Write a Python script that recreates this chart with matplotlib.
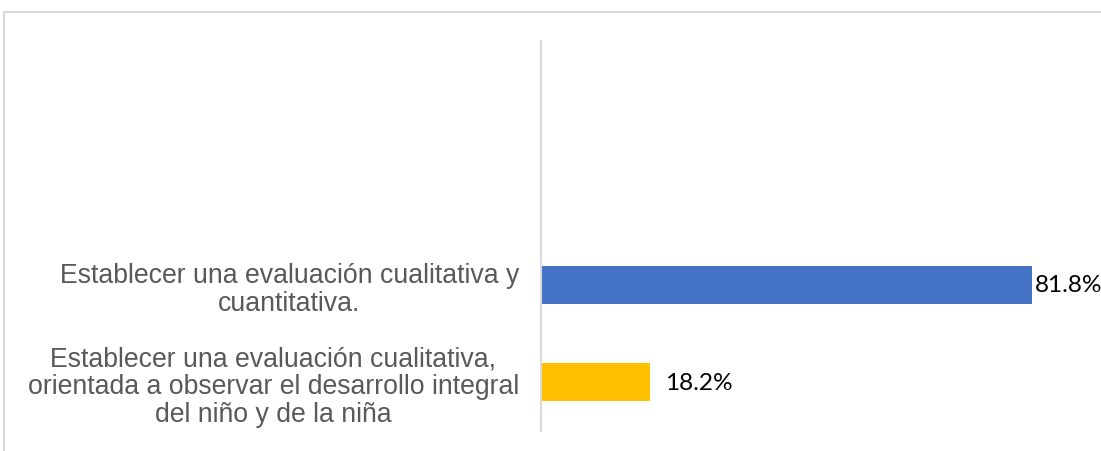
import matplotlib
matplotlib.use("Agg")
import matplotlib.pyplot as plt
from matplotlib.lines import Line2D

categories = [
    "Establecer una evaluación cualitativa,\norientada a observar el desarrollo integral\ndel niño y de la niña",
    "Establecer una evaluación cualitativa y\ncuantitativa.",
]
values = [18.2, 81.8]
value_labels = ["18.2%", "81.8%"]
colors = ["#FFC000", "#4472C4"]
label_pads = [11, 2]

W, H = 1101, 452
fig = plt.figure(figsize=(W / 100, H / 100), dpi=100)
fig.patch.set_facecolor("white")

fig.add_artist(Line2D([4 / W, 1.0], [1 - 12.5 / H, 1 - 12.5 / H], color="#d9d9d9", lw=1.5))
fig.add_artist(Line2D([4 / W, 4 / W], [0, 1 - 12.5 / H], color="#d9d9d9", lw=1.5))

left = 541 / W
right = 1141 / W
bottom = (H - 432) / H
top = (H - 42) / H
ax = fig.add_axes([left, bottom, right - left, top - bottom])
ax.set_facecolor("none")

pos = list(range(len(values)))
bars = ax.barh(pos, values, height=0.39, color=colors, zorder=2)
ax.set_xlim(0, 100)
ax.set_ylim(-0.5, 3.5)

ax.set_yticks(pos)
ax.set_yticklabels(categories, fontsize=19.2, family=["Liberation Sans", "DejaVu Sans"],
                   color="#595959", multialignment="center", linespacing=1.09)
ax.tick_params(axis="y", length=0, pad=15.8)
ax.set_xticks([])

for s in ["top", "right", "bottom"]:
    ax.spines[s].set_visible(False)
ax.spines["left"].set_color("#d9d9d9")
ax.spines["left"].set_linewidth(1.5)

for b, txt, p in zip(bars, value_labels, label_pads):
    ax.annotate(txt, (b.get_width(), b.get_y() + b.get_height() / 2),
                xytext=(p, 0), textcoords="offset points", va="center", ha="left",
                fontsize=17.6, color="#000000", family=["Lato", "DejaVu Sans"],
                annotation_clip=False)

fig.savefig("out.png", dpi=100)
